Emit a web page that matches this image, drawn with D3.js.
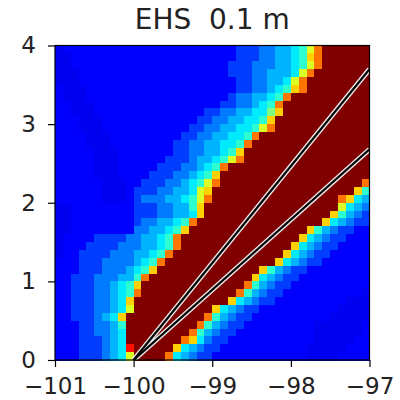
<!DOCTYPE html>
<html>
<head>
<meta charset="utf-8">
<script src="https://cdn.jsdelivr.net/npm/d3@7"></script>
<style>
  body { margin: 0; background: #fff; }
  text { font-family: 'DejaVu Sans', sans-serif; fill: #222; }
</style>
</head>
<body>
<svg id="chart" width="400" height="400"></svg>
<script>
const title = 'EHS  0.1 m';
const xTicks = [-101, -100, -99, -98, -97];
const yTicks = [0, 1, 2, 3, 4];
const xExtent = [-101, -97];
const yExtent = [0, 4];

// colour levels (jet colormap values)
const levelKeys = ['0', '1', '2', '3', '4', '5', '6', '7', '8', '9', 'o', 'r', 'R'];
const levelValues = [0.111, 0.125, 0.185, 0.245, 0.3, 0.355, 0.42, 0.5, 0.59, 0.67, 0.76, 0.86, 1.0];

// 40 x 40 cells, top row first (y = 4 down to 0), left column x = -101
const gridRows = [
  '0111111111 1111111111 1112223344 568oRRRRRR',
  '0011111111 1111111111 1112223344 569oRRRRRR',
  '0011111111 1111111111 1122233344 568oRRRRRR',
  '0001111111 1111111111 1122233444 58oRRRRRRR',
  '0001111111 1111111111 1112233445 8oRRRRRRRR',
  '1000111111 1111111111 1112233456 9oRRRRRRRR',
  '1000111111 1111111111 112334456o RRRRRRRRRR',
  '1100011111 1111111111 12233456oR RRRRRRRRRR',
  '1100011111 1111111112 233445579R RRRRRRRRRR',
  '1110001111 1111111122 33445569RR RRRRRRRRRR',
  '1110001111 1111111223 3445568oRR RRRRRRRRRR',
  '1111000111 1111112233 44556oRRRR RRRRRRRRRR',
  '1111000111 1111122334 4556oRRRRR RRRRRRRRRR',
  '1111100011 1111122334 4569RRRRRR RRRRRRRRRR',
  '1111100011 1111222344 568oRRRRRR RRRRRRRRRR',
  '1111100011 1112223345 6oRRRRRRRR RRRRRRRRRR',
  '1111100011 1122233456 9RRRRRRRRR RRRRRRRRRR',
  '1111110001 1222334568 oRRRRRRRRR RRRRRRRRRo',
  '1111110001 2223344589 RRRRRRRRRR RRRRRRRR96',
  '1111110001 233344568o RRRRRRRRRR RRRRRRo954',
  '0011111111 222334469R RRRRRRRRRR RRRRRR8543',
  '0011111111 222334459R RRRRRRRRRR RRRRR96432',
  '0011111111 2334456oRR RRRRRRRRRR RRRR954322',
  '0011111111 3344569RRR RRRRRRRRRR RR96432211',
  '0111122223 34456oRRRR RRRRRRRRRR R954322111',
  '0111222233 34456oRRRR RRRRRRRRRR 9543221111',
  '0112222333 4456oRRRRR RRRRRRRRR9 5432211111',
  '1112223333 456oRRRRRR RRRRRRRR95 4322111111',
  '1112223334 569RRRRRRR RRRRRR9643 2211111111',
  '1122233344 6oRRRRRRRR RRRRR95432 2111111111',
  '1122233456 9RRRRRRRRR RRRRo64322 1111111111',
  '1122233456 oRRRRRRRRR RRRo643221 1111111110',
  '1122233459 RRRRRRRRRR RR95432211 1111111000',
  '1122233458 RRRRRRRRRR 9543221111 1111110000',
  '112223459R RRRRRRRRRo 6432211111 1111100000',
  '111223346R RRRRRRRRo6 4322111111 1110000001',
  '111223345R RRRRRRRo64 3221111111 1110000001',
  '111222345R RRRRRRo953 2211111111 1110000011',
  '111222345r RRRRR95432 2111111111 1100000111',
  '1112223458 RRRRo54322 1111111111 1100001111'
];

// the two rays drawn over the map
const rays = [
  { x0: -100, y0: 0, x1: -97, y1: 3.7 },
  { x0: -100, y0: 0, x1: -97, y1: 2.68 }
];

function jet(v) {
  const c = t => Math.max(0, Math.min(1, t));
  const r = c(Math.min(4 * v - 1.5, -4 * v + 4.5));
  const g = c(Math.min(4 * v - 0.5, -4 * v + 3.5));
  const b = c(Math.min(4 * v + 0.5, -4 * v + 2.5));
  return d3.rgb(r * 255, g * 255, b * 255);
}

const levelOf = new Map(levelKeys.map((k, i) => [k, levelValues[i]]));
const cells = [];
gridRows.forEach((row, ri) => {
  row.replace(/ /g, '').split('').forEach((ch, ci) => {
    cells.push({ row: ri, col: ci, value: levelOf.get(ch) });
  });
});
const nRows = gridRows.length;
const nCols = gridRows[0].replace(/ /g, '').length;

const margin = { top: 45.5, left: 55 };
const size = 314.5;

const svg = d3.select('#chart');
const g = svg.append('g').attr('transform', `translate(${margin.left},${margin.top})`);

const x = d3.scaleLinear().domain(xExtent).range([0, size]);
const y = d3.scaleLinear().domain(yExtent).range([size, 0]);
const colBand = d3.scaleBand().domain(d3.range(nCols)).range([0, size]);
const rowBand = d3.scaleBand().domain(d3.range(nRows)).range([0, size]);

// Heat map cells
g.append('g')
  .attr('shape-rendering', 'crispEdges')
  .selectAll('rect')
  .data(cells)
  .join('rect')
  .attr('x', d => colBand(d.col))
  .attr('y', d => rowBand(d.row))
  .attr('width', colBand.bandwidth() + 0.5)
  .attr('height', rowBand.bandwidth() + 0.5)
  .attr('fill', d => jet(d.value));

// Rays: white halo with black core
g.append('defs').append('clipPath').attr('id', 'plot-clip')
  .append('rect').attr('width', size).attr('height', size);

const rayG = g.append('g').attr('clip-path', 'url(#plot-clip)');
rayG.selectAll('.halo')
  .data(rays)
  .join('line')
  .attr('class', 'halo')
  .attr('x1', d => x(d.x0)).attr('y1', d => y(d.y0))
  .attr('x2', d => x(d.x1)).attr('y2', d => y(d.y1))
  .attr('stroke', '#e8e8e8')
  .attr('stroke-width', 5);
rayG.selectAll('.core')
  .data(rays)
  .join('line')
  .attr('class', 'core')
  .attr('x1', d => x(d.x0)).attr('y1', d => y(d.y0))
  .attr('x2', d => x(d.x1)).attr('y2', d => y(d.y1))
  .attr('stroke', '#000')
  .attr('stroke-width', 2.2);

// Frame
g.append('rect')
  .attr('width', size).attr('height', size)
  .attr('fill', 'none')
  .attr('stroke', '#000')
  .attr('stroke-width', 1.2);

// Axes
const fmt = v => (v < 0 ? '\u2212' + Math.abs(v) : String(v));

const xAxis = g.append('g')
  .attr('transform', `translate(0,${size})`)
  .call(d3.axisBottom(x).tickValues(xTicks).tickFormat(fmt).tickSize(7).tickPadding(11));
const yAxis = g.append('g')
  .call(d3.axisLeft(y).tickValues(yTicks).tickFormat(fmt).tickSize(7).tickPadding(12));

[xAxis, yAxis].forEach(a => {
  a.select('.domain').remove();
  a.selectAll('line').attr('stroke', '#000').attr('stroke-width', 1.2);
  a.selectAll('text')
    .attr('font-family', 'DejaVu Sans')
    .attr('font-size', '23px')
    .attr('fill', '#222');
});

// Title
svg.append('text')
  .attr('x', margin.left + size / 2)
  .attr('y', 29)
  .attr('text-anchor', 'middle')
  .attr('font-size', '28px')
  .style('white-space', 'pre')
  .text(title);
</script>
</body>
</html>
